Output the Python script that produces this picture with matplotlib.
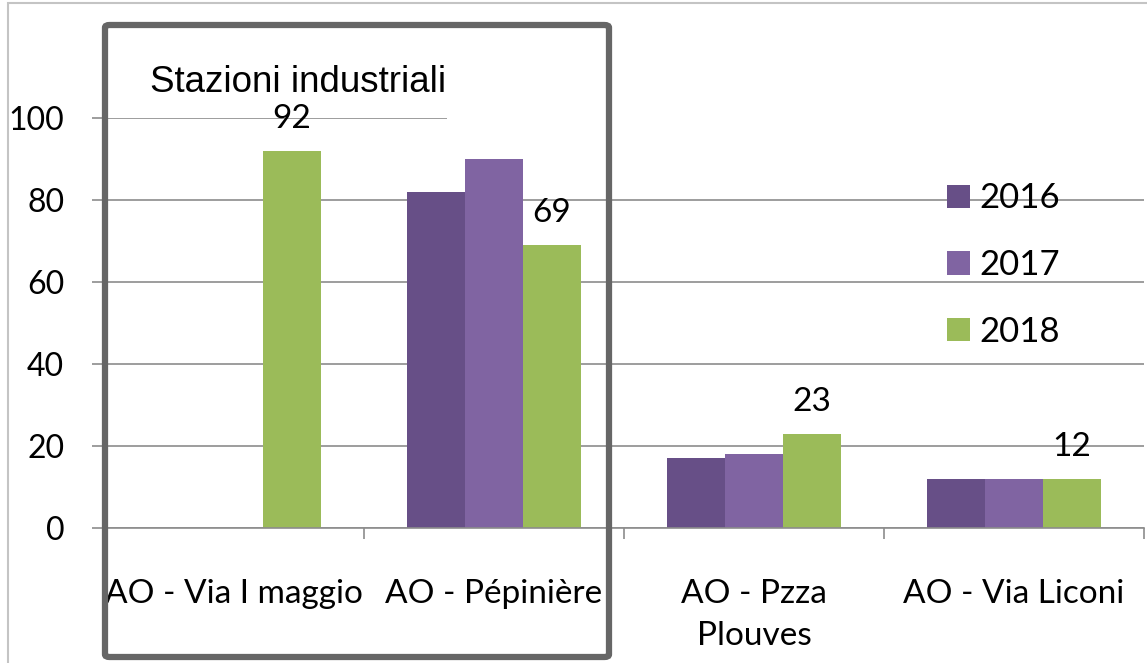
import matplotlib
matplotlib.use("Agg")
import matplotlib.pyplot as plt
import numpy as np
from matplotlib.patches import Rectangle, FancyBboxPatch

# dati
stazioni = ["AO - Via I maggio", "AO - Pépinière", "AO - Pzza\nPlouves", "AO - Via Liconi"]
anni = ["2016", "2017", "2018"]
v2016 = [np.nan, 82, 17, 12]
v2017 = [np.nan, 90, 18, 12]
v2018 = [92, 69, 23, 12]
colori = ["#674f87", "#8064a2", "#9bbb59"]

plt.rcParams["font.family"] = ["Lato", "DejaVu Sans"]

W, H = 1147, 663
fig = plt.figure(figsize=(W / 100, H / 100), dpi=100)
ax = fig.add_axes([104 / W, 1 - 528 / H, (1144 - 104) / W, (528 - 118) / H])

x = np.arange(len(stazioni))
bw = 0.223
for i, (vals, col, lab) in enumerate(zip([v2016, v2017, v2018], colori, anni)):
    ax.bar(x + (i - 1) * bw, vals, width=bw, color=col, label=lab, zorder=2)

# etichette solo per il 2018
for xi, v in zip(x, v2018):
    ax.annotate(f"{v}", (xi + bw, v), xytext=(0, 12), textcoords="offset points",
                ha="center", va="bottom", fontsize=24, zorder=3)

ax.set_xlim(-0.5, 3.5)
ax.set_ylim(0, 100)
ax.set_yticks(np.arange(0, 101, 20))
ax.yaxis.grid(True, color="#8c8c8c", lw=1.2, zorder=0)
ax.set_axisbelow(True)
ax.tick_params(axis="y", direction="out", length=8.6, width=1.2, color="#8c8c8c",
               labelsize=23, pad=20)
for s in ["top", "right", "left"]:
    ax.spines[s].set_visible(False)
ax.spines["bottom"].set_color("#8c8c8c")
ax.spines["bottom"].set_linewidth(1.2)

ax.set_xticks(x)
ax.set_xticklabels(stazioni, fontsize=24, linespacing=1.5)
ax.set_xticks(np.arange(-0.5, 4, 1), minor=True)
ax.tick_params(axis="x", which="major", length=0, pad=37)
ax.tick_params(axis="x", which="minor", direction="out", length=8, width=1.2,
               color="#8c8c8c")

ax.legend(loc="upper left", bbox_to_anchor=(0.781, 0.919), frameon=False,
          fontsize=25, handlelength=0.66, handleheight=0.66,
          handletextpad=0.25, labelspacing=1.0)

# area bianca che copre il titolo originale
fig.patches.append(Rectangle((447 / W, 1 - 126 / H), (W - 447) / W, 112 / H,
                             transform=fig.transFigure, facecolor="white",
                             edgecolor="none", zorder=5))

# riquadro delle stazioni industriali
fig.patches.append(FancyBboxPatch((105 / W, 1 - 657 / H), (609 - 105) / W, (657 - 25) / H,
                                  boxstyle="round,pad=0,rounding_size=0.004",
                                  transform=fig.transFigure, facecolor="none",
                                  edgecolor="#666666", lw=4.5, zorder=6))
fig.text(150 / W, 1 - 92 / H, "Stazioni industriali", fontsize=26.5,
         family="Liberation Sans", va="baseline", ha="left", zorder=7)

# bordo esterno
fig.patches.append(Rectangle((8 / W, -0.1), 1.2, 1 - 3 / H + 0.1,
                             transform=fig.transFigure, facecolor="none",
                             edgecolor="#c4c4c4", lw=1.5, zorder=4))

fig.savefig("out.png", dpi=100)
